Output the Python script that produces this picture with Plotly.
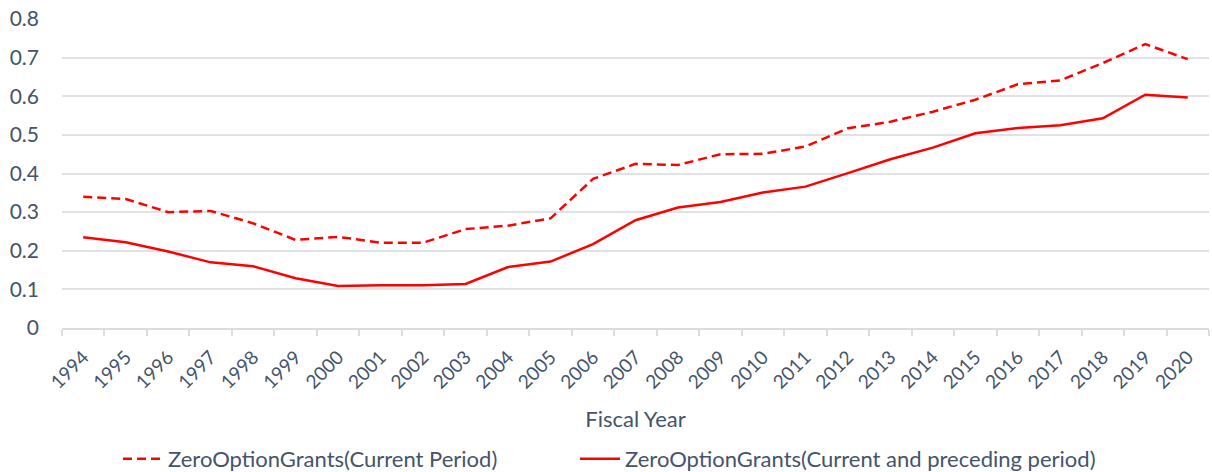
import plotly.graph_objects as go

years = [str(y) for y in range(1994, 2021)]
current_period = [0.340, 0.334, 0.300, 0.303, 0.271, 0.228, 0.236, 0.221, 0.221, 0.256,
                  0.265, 0.284, 0.386, 0.425, 0.422, 0.450, 0.451, 0.470, 0.517, 0.534,
                  0.560, 0.591, 0.631, 0.641, 0.686, 0.735, 0.696]
current_and_preceding = [0.235, 0.222, 0.198, 0.170, 0.160, 0.129, 0.109, 0.111, 0.111, 0.114,
                         0.158, 0.172, 0.217, 0.279, 0.312, 0.326, 0.351, 0.366, 0.401, 0.437,
                         0.467, 0.504, 0.518, 0.525, 0.543, 0.604, 0.597]
y_ticks = [0, 0.1, 0.2, 0.3, 0.4, 0.5, 0.6, 0.7, 0.8]
y_tick_text = ["0", "0.1", "0.2", "0.3", "0.4", "0.5", "0.6", "0.7", "0.8"]

FONT = "Lato"
TXT = "#44546A"
RED = "#FF0000"

fig = go.Figure()
fig.add_trace(go.Scatter(x=years, y=current_period, mode="lines",
                         name="ZeroOptionGrants(Current Period)",
                         line=dict(color=RED, width=2.5, dash="9px,5px"),
                         legend="legend"))
fig.add_trace(go.Scatter(x=years, y=current_and_preceding, mode="lines",
                         name="ZeroOptionGrants(Current and preceding period)",
                         line=dict(color=RED, width=2.5),
                         legend="legend2"))

legend_common = dict(orientation="h", xanchor="left",
                     yref="container", y=(472 - 459) / 472, yanchor="middle",
                     font=dict(size=22, color=TXT), itemwidth=40,
                     bgcolor="rgba(0,0,0,0)")

fig.update_layout(
    width=1212, height=472,
    margin=dict(l=62, r=3, t=19, b=144, autoexpand=False),
    paper_bgcolor="white", plot_bgcolor="white",
    font=dict(family=FONT, color=TXT, size=21),
    showlegend=True,
    legend=dict(xref="container", x=118 / 1212, **legend_common),
    legend2=dict(xref="container", x=575 / 1212, **legend_common),
    xaxis=dict(type="category", range=[-0.5, len(years) - 0.5], automargin=False,
               tickangle=-45, tickson="boundaries",
               ticks="outside", ticklen=6, tickcolor="#D9DDE3", tickwidth=1.5,
               showline=True, linecolor="#D9DDE3", linewidth=1.5,
               showgrid=False, tickfont=dict(size=19, color=TXT),
               ticklabelstandoff=9,
               title=dict(text="Fiscal Year", font=dict(size=22, color=TXT), standoff=20)),
    yaxis=dict(range=[0, 0.8], tickvals=y_ticks, ticktext=y_tick_text, automargin=False,
               showgrid=True, gridcolor="#DFE3E8", gridwidth=1.5,
               zeroline=False, showline=False, ticks="",
               ticklabelstandoff=22, tickfont=dict(size=21, color=TXT)),
)

fig.write_html("out.html", config={"displayModeBar": False},
               post_script="document.body.style.margin='0';document.body.style.padding='0';")
